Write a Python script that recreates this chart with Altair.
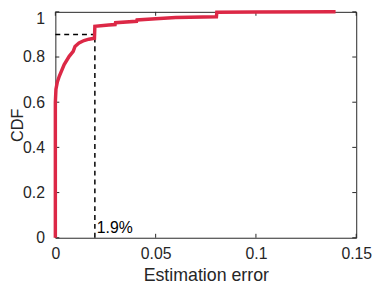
import altair as alt
import pandas as pd

# CDF curve
err = [0, 0, 0.0003, 0.001, 0.002, 0.0044, 0.0069, 0.0089, 0.0098, 0.0118, 0.0143,
       0.0167, 0.0195, 0.0197, 0.0266, 0.0298, 0.0300, 0.0405, 0.0407, 0.05, 0.06,
       0.0803, 0.0805, 0.1, 0.1397]
cdf = [0, 0.60, 0.658, 0.69, 0.716, 0.767, 0.803, 0.825, 0.847, 0.862, 0.873,
       0.879, 0.883, 0.936, 0.942, 0.944, 0.952, 0.958, 0.964, 0.969, 0.975,
       0.978, 0.998, 0.999, 1.0]

xticks = [0, 0.05, 0.1, 0.15]
yticks = [0, 0.2, 0.4, 0.6, 0.8, 1]

thr_x = 0.0197
thr_y = 0.9
thr_label = "1.9%"

W, H = 305, 229
RED = "#DC2846"
AX = "#262626"
FONT = "Liberation Sans"

xs = alt.Scale(domain=[0, 0.15], nice=False, zero=False)
ys = alt.Scale(domain=[0, 1], nice=False, zero=False)

curve_df = pd.DataFrame({"err": err, "cdf": cdf, "i": list(range(len(err)))})

xaxis = alt.Axis(values=xticks, labelExpr="datum.value", title="Estimation error",
                 ticks=False, domain=False, grid=False, labelPadding=8, titlePadding=5,
                 titleFontSize=18, labelFlush=False, labelOverlap=False)
yaxis = alt.Axis(values=yticks, labelExpr="datum.value", title="CDF",
                 ticks=False, domain=False, grid=False, labelPadding=11,
                 titleX=-33, titleY=H / 2, titleBaseline="alphabetic", titleAlign="center",
                 titleAngle=270, titleFontSize=16.5,
                 labelOffset={"condition": {"test": "datum.value == 1", "value": 7}, "value": 0},
                 labelFlush=False, labelOverlap=False)

line = alt.Chart(curve_df).mark_line(color=RED, strokeWidth=3.5, clip=False).encode(
    x=alt.X("err:Q", scale=xs, axis=xaxis),
    y=alt.Y("cdf:Q", scale=ys, axis=yaxis),
    order="i:Q",
)

hdash = alt.Chart(pd.DataFrame({"x": [0], "x2": [thr_x], "y": [thr_y]})).mark_rule(
    color="black", strokeWidth=1.5, strokeDash=[5, 4]).encode(
    x=alt.X("x:Q", scale=xs), x2="x2:Q", y=alt.Y("y:Q", scale=ys))
vdash = alt.Chart(pd.DataFrame({"x": [thr_x], "y": [0], "y2": [thr_y]})).mark_rule(
    color="black", strokeWidth=1.5, strokeDash=[5, 4]).encode(
    x=alt.X("x:Q", scale=xs), y=alt.Y("y:Q", scale=ys), y2="y2:Q")

label = alt.Chart(pd.DataFrame({"x": [thr_x], "y": [0], "t": [thr_label]})).mark_text(
    align="left", baseline="alphabetic", dx=2, dy=-5, fontSize=16, font=FONT,
    color="black").encode(x=alt.X("x:Q", scale=xs), y=alt.Y("y:Q", scale=ys), text="t:N")

xt = pd.DataFrame({"v": xticks})
yt = pd.DataFrame({"v": yticks})
tb = alt.Chart(xt).mark_rule(color=AX, strokeWidth=1).encode(
    x=alt.X("v:Q", scale=xs), y=alt.value(H), y2=alt.value(H - 4))
tt = alt.Chart(xt).mark_rule(color=AX, strokeWidth=1).encode(
    x=alt.X("v:Q", scale=xs), y=alt.value(0), y2=alt.value(4))
tl = alt.Chart(yt).mark_rule(color=AX, strokeWidth=1).encode(
    y=alt.Y("v:Q", scale=ys), x=alt.value(0), x2=alt.value(4))
tr = alt.Chart(yt).mark_rule(color=AX, strokeWidth=1).encode(
    y=alt.Y("v:Q", scale=ys), x=alt.value(W), x2=alt.value(W - 4))

chart = alt.layer(tb, tt, tl, tr, hdash, vdash, line, label).properties(
    width=W, height=H,
    autosize=alt.AutoSizeParams(type="none"),
    padding={"left": 48, "top": 2, "right": 17, "bottom": 46},
).configure_view(stroke=AX, strokeWidth=1).configure_axis(
    labelFont=FONT, titleFont=FONT, labelFontSize=16,
    labelColor=AX, titleColor=AX, titleFontWeight="normal",
)

chart.save("out.html", embed_options={"renderer": "svg", "actions": False})
